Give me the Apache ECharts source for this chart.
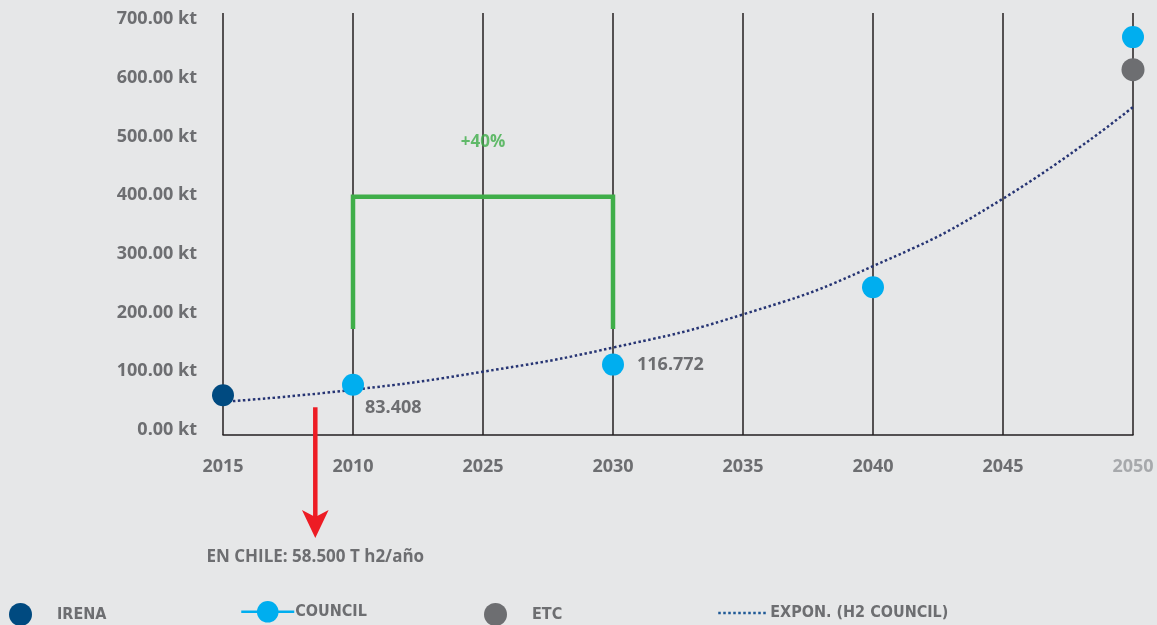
<!DOCTYPE html>
<html><head><meta charset="utf-8">
<script src="https://cdn.jsdelivr.net/npm/echarts@6/dist/echarts.min.js"></script>
<style>html,body{margin:0;padding:0;background:#e6e7e8;} #c{width:1157px;height:625px;}</style>
</head><body><div id="c"></div>
<script>
// ---- data ----
const categories = ['2015', '2010', '2025', '2030', '2035', '2040', '2045', '2050'];
const yMin = 0, yMax = 700, yStep = 100;
const yTicks = [0, 100, 200, 300, 400, 500, 600, 700];
const yUnit = ' kt';
const irena = [66, null, null, null, null, null, null, null];
const council = [null, 83.408, null, 116.772, null, 245, null, 660];
const councilLabels = [null, '83.408', null, '116.772', null, null, null, null];
const etc = [null, null, null, null, null, null, null, 606];
const exponTrend = [55, 75, 105, 145, 200, 280, 392, 544];
const bracketX = [1, 1, 3, 3];
const bracketY = [176, 395, 395, 176];
const bracketText = '+40%';
const bracketTextAt = [2, 486];
const arrowX = [0.71, 0.71];
const arrowY = [46, -140];
const arrowTip = [0.71, -171];
const arrowText = 'EN CHILE: 58.500 T h2/año';
const seriesNames = ['IRENA', 'COUNCIL', 'ETC', 'EXPON. (H2 COUNCIL)'];

// ---- styles ----
const grey = '#6d6e71';
const green = '#3fae49';
const font = "'Open Sans', sans-serif";
const legendFont = "'Liberation Sans Narrow', 'DejaVu Sans Condensed', 'Roboto Condensed', sans-serif";
const legendText = { color: grey, fontWeight: 'bold', fontSize: 16, fontFamily: legendFont };

// the printed tick labels in the original sit on a slightly tighter scale than the plotted data
const labelMin = yMin - 8.5, labelMax = yMax + 10.2;

const chart = echarts.init(document.getElementById('c'), null, { renderer: 'canvas' });
const option = {
  backgroundColor: '#e6e7e8',
  animation: false,
  grid: { left: 223, right: 24, top: 13, bottom: 190, containLabel: false },
  xAxis: [
    {
      type: 'category', data: categories, boundaryGap: false,
      axisLine: { show: true, lineStyle: { color: '#231f20', width: 1.5 } },
      axisTick: { show: false },
      splitLine: { show: true, lineStyle: { color: '#231f20', width: 1.5 } },
      axisLabel: {
        margin: 23, fontSize: 18, fontWeight: 'bold', fontFamily: font,
        color: (v, i) => (i === categories.length - 1 ? '#a7a9ac' : grey)
      }
    },
    { type: 'value', min: 0, max: categories.length - 1, show: false }
  ],
  yAxis: [
    {
      type: 'value', min: yMin, max: yMax, interval: yStep,
      axisLine: { show: false }, axisTick: { show: false }, splitLine: { show: false },
      axisLabel: { show: false }
    },
    {
      type: 'value', position: 'left', min: labelMin, max: labelMax,
      axisLine: { show: false }, axisTick: { show: false }, splitLine: { show: false },
      axisLabel: {
        customValues: yTicks,
        margin: 26, fontSize: 18, fontWeight: 'bold', fontFamily: font, color: grey,
        formatter: v => Number(v).toFixed(2) + yUnit
      }
    }
  ],
  legend: [
    { data: [{ name: seriesNames[0], icon: 'circle' }], left: 9, top: 603, itemWidth: 23, itemHeight: 23, padding: 0,
      selectedMode: false, textStyle: Object.assign({}, legendText, { padding: [0, 0, 0, 20] }) },
    { data: [{ name: seriesNames[1], lineStyle: { color: '#00aeef', width: 2.5, opacity: 1 } }], left: 240, top: 601,
      itemWidth: 53, itemHeight: 27, padding: 0, selectedMode: false, textStyle: Object.assign({}, legendText, { padding: [0, 0, 0, -4] }) },
    { data: [{ name: seriesNames[2], icon: 'circle' }], left: 484, top: 603, itemWidth: 23, itemHeight: 23, padding: 0,
      selectedMode: false, textStyle: Object.assign({}, legendText, { padding: [0, 0, 0, 20] }) },
    { data: [{ name: seriesNames[3], itemStyle: { opacity: 0 }, lineStyle: { color: '#1f5a96', width: 2.5, type: 'dotted', opacity: 1 } }],
      left: 717, top: 605, itemWidth: 50, itemHeight: 20, padding: 0, selectedMode: false,
      textStyle: Object.assign({}, legendText, { padding: [0, 0, 0, -3] }) }
  ],
  series: [
    {
      name: seriesNames[3], type: 'line', data: exponTrend, smooth: true, symbol: 'none', z: 3,
      lineStyle: { color: '#263473', width: 2.5, type: 'dotted' }
    },
    {
      name: 'bracket', type: 'line', xAxisIndex: 1, symbol: 'none', z: 4,
      data: bracketX.map((x, i) => [x, bracketY[i]]),
      lineStyle: { color: green, width: 4.5, join: 'miter' }
    },
    {
      name: 'bracketLabel', type: 'scatter', xAxisIndex: 1, symbolSize: 1, z: 4,
      itemStyle: { color: 'rgba(0,0,0,0)' },
      data: [bracketTextAt],
      label: { show: true, position: 'inside', formatter: bracketText, color: green, fontSize: 17, fontWeight: 'bold', fontFamily: font }
    },
    {
      name: 'arrow', type: 'line', xAxisIndex: 1, clip: false, z: 4, symbol: 'none',
      data: arrowX.map((x, i) => [x, arrowY[i]]),
      lineStyle: { color: '#ed1c24', width: 4.5 }
    },
    {
      name: 'arrowHead', type: 'scatter', xAxisIndex: 1, clip: false, z: 4,
      symbol: 'arrow', symbolSize: [20, 28], symbolRotate: 180,
      itemStyle: { color: '#ed1c24', opacity: 1 },
      data: [arrowTip],
      label: {
        show: true, position: 'bottom', distance: 11, formatter: arrowText,
        color: grey, fontSize: 17, fontWeight: 'bold', fontFamily: font
      }
    },
    {
      name: seriesNames[0], type: 'scatter', data: irena, symbolSize: 22, z: 5,
      itemStyle: { color: '#004a80', opacity: 1 }
    },
    {
      name: seriesNames[1], type: 'line', z: 5, symbol: 'circle', symbolSize: 22, showAllSymbol: true, connectNulls: false,
      lineStyle: { opacity: 0, width: 0 },
      itemStyle: { color: '#00aeef', opacity: 1 },
      data: council.map((v, i) => ({
        value: v,
        label: councilLabels[i] == null ? { show: false } : (i === 1 ? {
          show: true, position: [23, 34], align: 'left', verticalAlign: 'middle', formatter: councilLabels[i],
          color: grey, fontSize: 18, fontWeight: 'bold', fontFamily: font
        } : {
          show: true, position: 'right', distance: 13, formatter: councilLabels[i],
          color: grey, fontSize: 18, fontWeight: 'bold', fontFamily: font
        })
      }))
    },
    {
      name: seriesNames[2], type: 'scatter', data: etc, symbolSize: 23, z: 5,
      itemStyle: { color: '#6d6e71', opacity: 1 }
    }
  ]
};
chart.setOption(option);
</script>
</body></html>
